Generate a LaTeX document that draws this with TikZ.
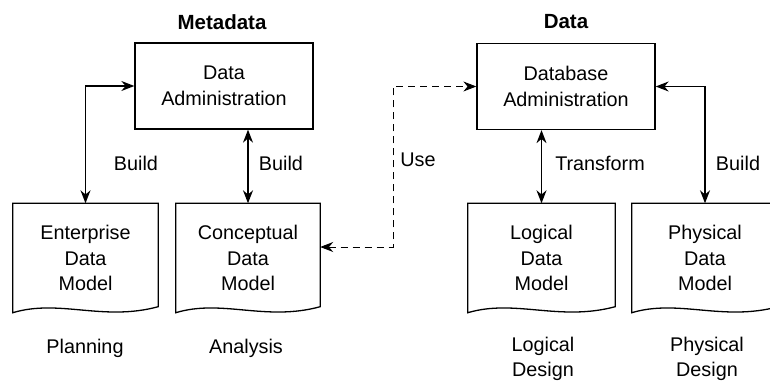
\documentclass[tikz,border=0pt]{standalone}
\usepackage{fontspec}
\setmainfont{Liberation Sans}
\usetikzlibrary{positioning,arrows.meta,calc}

\newcommand{\docoutline}[1]{%
  \draw[line width=1.3pt] (#1.north west) -- (#1.north east) -- ([yshift=6pt]#1.south east)
    .. controls ($(#1.south west)!0.62!(#1.south east)+(0,-9pt)$) and ($(#1.south west)!0.32!(#1.south east)+(0,14pt)$) .. (#1.south west) -- cycle;}

\begin{document}
\begin{tikzpicture}[x=1pt,y=-1pt, font=\fontsize{19.8}{25.5}\selectfont,
  adminbox/.style={draw, line width=1.3pt, minimum width=178pt, minimum height=86pt, align=center, inner sep=0pt},
  docbox/.style={minimum height=109pt, align=center, inner sep=0pt},
  link/.style={line width=1.3pt, {Stealth[length=13pt,width=10pt]}-{Stealth[length=13pt,width=10pt]}},
  heading/.style={font=\fontsize{20.5}{25}\selectfont\bfseries}]
\useasboundingbox (0,0) rectangle (770,385);

% administration boxes
\node[adminbox] (da) at (224,86) {Data\\Administration};
\node[adminbox] (db) at (566,86.5) {Database\\Administration};
\node[heading] (meta) at (222,22) {Metadata};
\node[heading] (data) at (566,22) {Data};

% models
\node[docbox, minimum width=145pt] (ent) at (85.5,258) {Enterprise\\Data\\Model};
\node[docbox, minimum width=144pt] (con) at (248,258) {Conceptual\\Data\\Model};
\node[docbox, minimum width=147pt] (log) at (541.5,258) {Logical\\Data\\Model};
\node[docbox, minimum width=146pt] (phy) at (705,258) {Physical\\Data\\Model};
\docoutline{ent}
\docoutline{con}
\docoutline{log}
\docoutline{phy}

% phases
\node (plan) at (85,348) {Planning};
\node (anal) at (246,348) {Analysis};
\node[align=center] (ldes) at (543,359) {Logical\\Design};
\node[align=center] (pdes) at (707,359) {Physical\\Design};

% connectors
\coordinate (usecorner) at (393,88);
\draw[link] (ent.north) |- (da.west);
\draw[link] (con.north) -- (con.north |- da.south);
\draw[link, dashed, dash pattern=on 7pt off 5pt, line width=1pt] ([yshift=11pt]con.east) -| (usecorner) |- (db.west);
\draw[link] (log.north) -- (log.north |- db.south);
\draw[link] (phy.north) |- (db.east);

\node (b1) at (136,163) {Build};
\node (b2) at (281,163) {Build};
\node (use) at (418,160) {Use};
\node (tr) at (600,163) {Transform};
\node (b3) at (738,163) {Build};
\end{tikzpicture}
\end{document}
